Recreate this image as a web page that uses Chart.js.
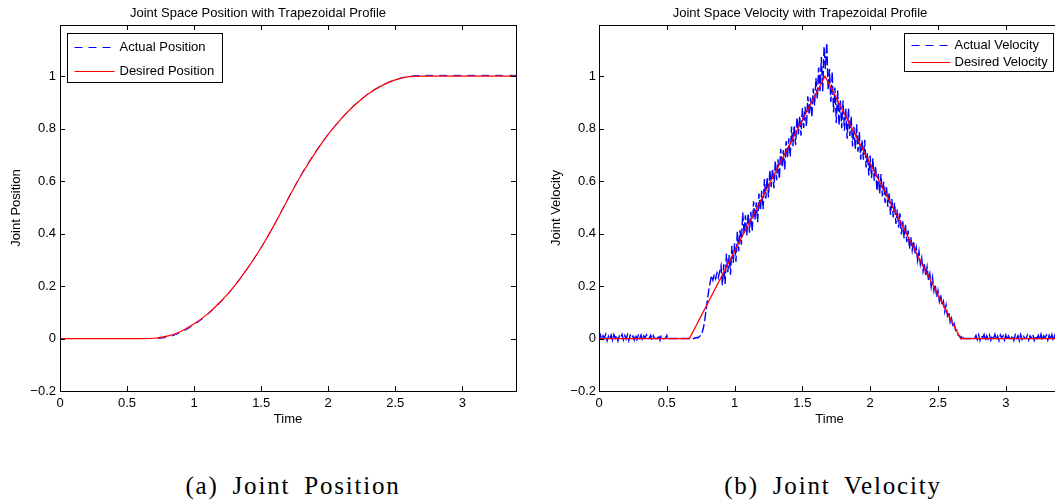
<!DOCTYPE html>
<html>
<head>
<meta charset="utf-8">
<script src="https://cdn.jsdelivr.net/npm/chart.js@4/dist/chart.umd.min.js"></script>
<style>
  html, body { margin: 0; padding: 0; background: #fff; }
  body { width: 1055px; height: 501px; overflow: hidden; position: relative; }
  .panel { position: absolute; top: 0; width: 530px; height: 430px; }
  .caption {
    position: absolute; top: 472px; width: 300px; text-align: center;
    font-family: 'Liberation Serif', 'DejaVu Serif', serif; font-size: 25px;
    letter-spacing: 1.8px; word-spacing: 6px; color: #000; line-height: 28px;
  }
</style>
</head>
<body>
<div class="panel" style="left:0"><canvas id="posChart" width="530" height="430"></canvas></div>
<div class="panel" style="left:540px"><canvas id="velChart" width="530" height="430"></canvas></div>
<div class="caption" style="left:143px">(a) Joint Position</div>
<div class="caption" style="left:683px">(b) Joint Velocity</div>
<script>
// position samples, every 0.1 s from 0 to 3.4
const posStep = 0.1;
const posDesired = [0, 0, 0, 0, 0, 0, 0,
  0.001, 0.009, 0.027, 0.056, 0.094, 0.142, 0.200, 0.269, 0.347, 0.435,
  0.532, 0.624, 0.706, 0.778, 0.839, 0.891, 0.933, 0.964, 0.986, 0.998,
  1, 1, 1, 1, 1, 1, 1, 1];
const posActual = [0, 0, 0, 0, 0, 0, 0, 0,
  0.005, 0.023, 0.052, 0.091, 0.140, 0.199, 0.268, 0.347, 0.436, 0.533,
  0.626, 0.708, 0.779, 0.840, 0.892, 0.934, 0.965, 0.987, 0.999,
  1.003, 1.003, 1.003, 1.003, 1.003, 1.003, 1.003, 1.003];

// desired velocity corners
const velDesiredTime = [0, 0.667, 1.667, 2.667, 3.4];
const velDesired = [0, 0, 1, 0, 0];

// measured velocity, every 0.01 s from 0 to 3.4 (one row = 0.1 s)
const velStep = 0.01;
const velActual = [
  0, 0.014, -0.006, 0.011, 0.002, 0.016, -0.008, 0.009, -0.003, 0.013,
  -0.007, 0.015, 0.001, 0.012, -0.009, 0.010, 0.004, 0.016, -0.005, 0.011,
  -0.002, 0.014, -0.008, 0.013, 0.003, 0.009, -0.006, 0.015, -0.004, 0.012,
  0, 0.013, -0.007, 0.010, 0.002, 0.014, 0, 0, 0.012, -0.005,
  0.011, 0, 0, 0, 0.013, -0.006, 0.012, 0, 0, 0,
  0.012, -0.004, 0, 0, 0, 0, 0, 0, 0, 0,
  0, 0, 0, 0, 0, 0, 0, 0, 0, 0,
  0, 0.002, 0.004, 0.003, 0.008, 0.012, 0.022, 0.040, 0.070, 0.110,
  0.150, 0.185, 0.215, 0.240, 0.222, 0.245, 0.228, 0.250, 0.232, 0.255,
  0.278, 0.203, 0.283, 0.208, 0.323, 0.253, 0.318, 0.243, 0.353, 0.288,
  0.363, 0.293, 0.408, 0.333, 0.413, 0.358, 0.480, 0.400, 0.470, 0.393,
  0.478, 0.403, 0.483, 0.408, 0.523, 0.453, 0.518, 0.443, 0.553, 0.488,
  0.563, 0.493, 0.608, 0.533, 0.613, 0.538, 0.643, 0.578, 0.648, 0.573,
  0.678, 0.603, 0.683, 0.608, 0.723, 0.653, 0.718, 0.643, 0.753, 0.688,
  0.763, 0.693, 0.808, 0.733, 0.813, 0.738, 0.843, 0.778, 0.848, 0.773,
  0.878, 0.803, 0.883, 0.808, 0.923, 0.853, 0.918, 0.843, 0.953, 0.888,
  0.993, 0.913, 1.033, 0.943, 1.073, 0.943, 1.113, 1.027, 1.127, 0.947,
  1.027, 0.902, 1.017, 0.862, 0.957, 0.822, 0.947, 0.812, 0.907, 0.802,
  0.907, 0.792, 0.877, 0.762, 0.877, 0.772, 0.847, 0.732, 0.807, 0.722,
  0.817, 0.712, 0.787, 0.682, 0.757, 0.682, 0.757, 0.652, 0.707, 0.622,
  0.697, 0.612, 0.687, 0.602, 0.657, 0.562, 0.627, 0.552, 0.627, 0.542,
  0.597, 0.517, 0.582, 0.502, 0.557, 0.472, 0.532, 0.462, 0.517, 0.437,
  0.492, 0.422, 0.477, 0.397, 0.447, 0.382, 0.437, 0.367, 0.412, 0.342,
  0.387, 0.337, 0.372, 0.322, 0.347, 0.297, 0.332, 0.282, 0.307, 0.257,
  0.287, 0.237, 0.272, 0.222, 0.247, 0.197, 0.232, 0.182, 0.207, 0.157,
  0.182, 0.142, 0.167, 0.127, 0.142, 0.102, 0.127, 0.087, 0.102, 0.062,
  0.077, 0.047, 0.057, 0.030, 0.032, 0.012, 0.010, 0, 0.012, 0,
  0, 0, 0, 0, 0, 0, 0, 0, 0.012, -0.004,
  0.014, -0.007, 0.011, 0.003, 0.015, -0.008, 0.010, -0.002, 0.013, -0.006,
  0.012, 0.001, 0.016, -0.005, 0.009, -0.008, 0.014, 0.002, 0.011, -0.006,
  0.013, -0.004, 0.010, 0, 0, 0.012, -0.007, 0.014, 0.001, 0.011,
  -0.008, 0.015, -0.003, 0.012, 0, 0, 0.013, -0.006, 0.010, 0.002,
  0.014, -0.007, 0.011, 0, 0.012, -0.005, 0.016, -0.008, 0.010, 0.003,
  0.013, -0.006, 0.012, -0.003, 0.015, -0.008, 0.011, 0, 0.013, -0.005,
  0.010];

const xTickStep = 0.5;
const yTickStep = 0.2;

const FONT = "'Liberation Sans', Arial, sans-serif";
const TICK_LEN = 5;
const LEGEND_DASH = [8, 6];

function sampled(values, step) {
  return values.map((v, i) => ({ x: i * step, y: v }));
}

// matlab style box, inward ticks and a legend inside the axes
const framePlugin = {
  id: 'frame',
  afterDraw(chart, args, opts) {
    const { ctx, chartArea: a, scales: { x, y } } = chart;
    ctx.save();
    ctx.strokeStyle = '#000';
    ctx.lineWidth = 1;
    ctx.beginPath();
    for (const t of x.ticks) {
      const px = Math.round(x.getPixelForValue(t.value)) + 0.5;
      ctx.moveTo(px, a.bottom); ctx.lineTo(px, a.bottom - TICK_LEN);
      ctx.moveTo(px, a.top); ctx.lineTo(px, a.top + TICK_LEN);
    }
    for (const t of y.ticks) {
      const py = Math.round(y.getPixelForValue(t.value)) + 0.5;
      ctx.moveTo(a.left, py); ctx.lineTo(a.left + TICK_LEN, py);
      ctx.moveTo(a.right, py); ctx.lineTo(a.right - TICK_LEN, py);
    }
    ctx.stroke();
    ctx.strokeRect(Math.round(a.left) + 0.5, Math.round(a.top) + 0.5,
      Math.round(a.right - a.left), Math.round(a.bottom - a.top));

    const lg = opts.legend;
    const items = chart.data.datasets;
    ctx.font = '13px ' + FONT;
    const textW = Math.max(...items.map(d => ctx.measureText(d.label).width));
    const w = Math.round(lg.textX + textW + lg.padEnd);
    const bx = Math.round(lg.side === 'left' ? a.left + lg.inset : a.right - lg.inset - w) + 0.5;
    const by = Math.round(a.top + lg.top) + 0.5;
    ctx.fillStyle = '#fff';
    ctx.fillRect(bx, by, w, lg.height);
    ctx.strokeStyle = '#000';
    ctx.lineWidth = 1;
    ctx.strokeRect(bx, by, w, lg.height);
    items.forEach((d, i) => {
      const ry = Math.round(by + lg.firstRow + i * lg.rowGap) + 0.5;
      ctx.beginPath();
      ctx.strokeStyle = d.borderColor;
      ctx.lineWidth = 1.2;
      ctx.setLineDash(d.borderDash ? LEGEND_DASH : []);
      ctx.moveTo(bx + lg.lineStart, ry);
      ctx.lineTo(bx + lg.lineEnd, ry);
      ctx.stroke();
      ctx.setLineDash([]);
      ctx.fillStyle = '#000';
      ctx.textBaseline = 'middle';
      ctx.textAlign = 'left';
      ctx.fillText(d.label, bx + lg.textX, ry);
    });
    ctx.restore();
  }
};

function tickText(v) {
  return String(Math.round(v * 10) / 10).replace('-', '\u2212');
}

function makeOptions(cfg) {
  const font = { family: FONT, size: 13, weight: 'normal' };
  return {
    responsive: false,
    animation: false,
    layout: { padding: { left: 0, right: cfg.padRight, top: 0, bottom: 0 } },
    elements: { point: { radius: 0 } },
    plugins: {
      legend: { display: false },
      tooltip: { enabled: false },
      title: {
        display: true, text: cfg.title, color: '#000', font: font,
        padding: { top: 6, bottom: 3.4 }
      },
      frame: { legend: cfg.legend }
    },
    scales: {
      x: {
        type: 'linear', min: 0, max: 3.4,
        grid: { display: false, drawTicks: false },
        border: { display: false },
        ticks: {
          stepSize: xTickStep, includeBounds: false, padding: 5, color: '#000',
          font: font, maxRotation: 0, autoSkip: false, callback: tickText
        },
        title: { display: true, text: 'Time', color: '#000', font: font, padding: { top: 0, bottom: 3 } },
        afterFit: s => { s.height = 39; }
      },
      y: {
        type: 'linear', min: -0.2, max: 1.195,
        grid: { display: false, drawTicks: false },
        border: { display: false },
        ticks: {
          stepSize: yTickStep, includeBounds: false, padding: cfg.yPad, color: '#000',
          font: font, autoSkip: false, callback: tickText
        },
        title: { display: true, text: cfg.yTitle, color: '#000', font: font, padding: { top: 9, bottom: 0 } },
        afterFit: s => { s.width = cfg.yWidth; }
      }
    }
  };
}

new Chart(document.getElementById('posChart'), {
  type: 'line',
  data: {
    datasets: [
      {
        label: 'Actual Position', data: sampled(posActual, posStep),
        borderColor: '#0000ff', borderWidth: 1, borderDash: [8, 6],
        cubicInterpolationMode: 'monotone', order: 1
      },
      {
        label: 'Desired Position', data: sampled(posDesired, posStep),
        borderColor: '#ff0000', borderWidth: 1.2,
        cubicInterpolationMode: 'monotone', order: 0
      }
    ]
  },
  options: makeOptions({
    title: 'Joint Space Position with Trapezoidal Profile',
    yTitle: 'Joint Position', padRight: 14, yWidth: 60, yPad: 4,
    legend: { side: 'left', inset: 7, top: 8, height: 49, firstRow: 13, rowGap: 24, lineStart: 7, lineEnd: 47, textX: 52, padEnd: 8 }
  }),
  plugins: [framePlugin]
});

new Chart(document.getElementById('velChart'), {
  type: 'line',
  data: {
    datasets: [
      {
        label: 'Actual Velocity', data: sampled(velActual, velStep),
        borderColor: '#0000ff', borderWidth: 1.4, borderDash: [9, 3],
        tension: 0, order: 1
      },
      {
        label: 'Desired Velocity',
        data: velDesiredTime.map((t, i) => ({ x: t, y: velDesired[i] })),
        borderColor: '#ff0000', borderWidth: 1.2, tension: 0, order: 0
      }
    ]
  },
  options: makeOptions({
    title: 'Joint Space Velocity with Trapezoidal Profile',
    yTitle: 'Joint Velocity', padRight: 10, yWidth: 59, yPad: 3,
    legend: { side: 'right', inset: 7, top: 8, height: 38, firstRow: 11, rowGap: 17, lineStart: 7, lineEnd: 46, textX: 50, padEnd: 6 }
  }),
  plugins: [framePlugin]
});
</script>
</body>
</html>
